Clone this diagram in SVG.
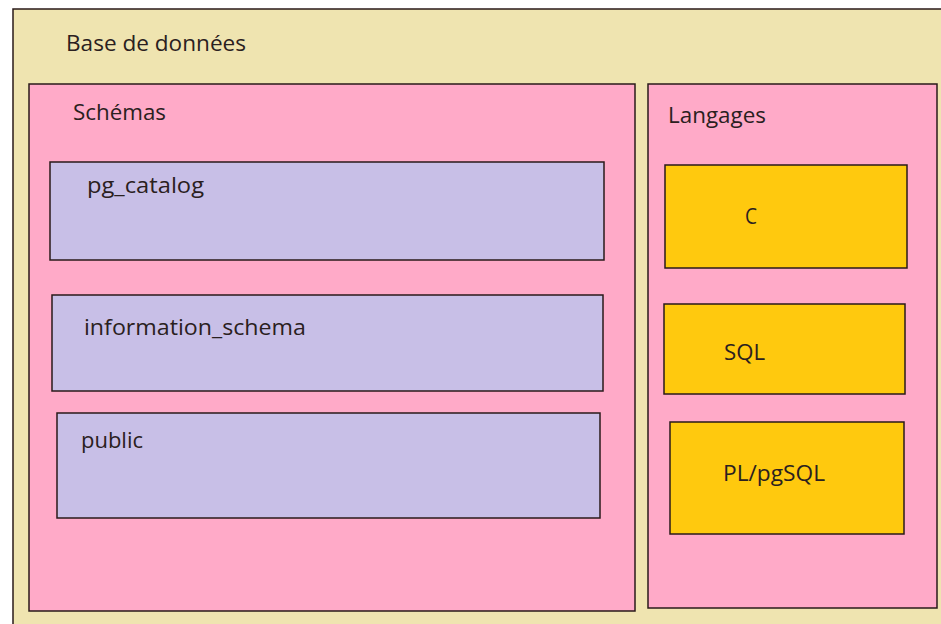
<svg xmlns="http://www.w3.org/2000/svg" width="941" height="624" viewBox="0 0 941 624">
<style>
.box{stroke:#2a1a1a;stroke-width:1.5}
.db{fill:#efe4b0}
.grp{fill:#ffaac8}
.sch{fill:#c8bfe7}
.lang{fill:#ffc90e}
text{font-family:"Open Sans","Liberation Sans",sans-serif;font-size:21px;fill:#2a2020}
</style>
<rect width="941" height="624" fill="#ffffff"/>
<g id="db">
<rect class="box db" x="13" y="9" width="940" height="630"/>
<text x="66" y="51" textLength="180" lengthAdjust="spacingAndGlyphs">Base de données</text>
</g>
<g id="schemas">
<rect class="box grp" x="29" y="84" width="606" height="527"/>
<text x="73" y="120" textLength="93" lengthAdjust="spacingAndGlyphs">Schémas</text>
</g>
<g id="pg_catalog">
<rect class="box sch" x="50" y="162" width="554" height="98"/>
<text x="87" y="193" textLength="117" lengthAdjust="spacingAndGlyphs">pg_catalog</text>
</g>
<g id="information_schema">
<rect class="box sch" x="52" y="295" width="551" height="96"/>
<text x="84" y="335" textLength="222" lengthAdjust="spacingAndGlyphs">information_schema</text>
</g>
<g id="public">
<rect class="box sch" x="57" y="413" width="543" height="105"/>
<text x="81" y="448" textLength="62" lengthAdjust="spacingAndGlyphs">public</text>
</g>
<g id="langages">
<rect class="box grp" x="648" y="84" width="289" height="524"/>
<text x="668" y="123" textLength="98" lengthAdjust="spacingAndGlyphs">Langages</text>
</g>
<g id="c">
<rect class="box lang" x="665" y="165" width="242" height="103"/>
<text x="745" y="224" textLength="12" lengthAdjust="spacingAndGlyphs">C</text>
</g>
<g id="sql">
<rect class="box lang" x="664" y="304" width="241" height="90"/>
<text x="724" y="360" textLength="41" lengthAdjust="spacingAndGlyphs">SQL</text>
</g>
<g id="plpgsql">
<rect class="box lang" x="670" y="422" width="234" height="112"/>
<text x="723" y="481" textLength="102" lengthAdjust="spacingAndGlyphs">PL/pgSQL</text>
</g>
<g id="connectors"></g>
</svg>
